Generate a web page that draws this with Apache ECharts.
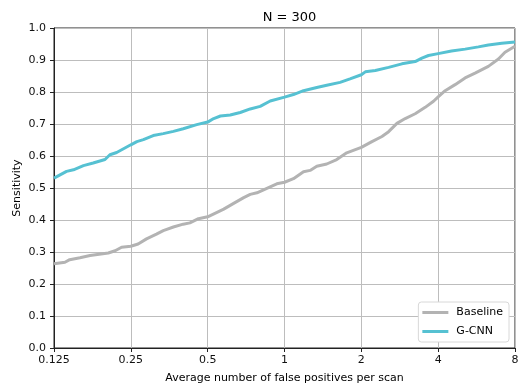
<!DOCTYPE html>
<html>
<head>
<meta charset="utf-8">
<script src="https://cdn.jsdelivr.net/npm/echarts@6/dist/echarts.min.js"></script>
<style>html,body{margin:0;padding:0;background:#fff;}#c{width:519px;height:385px;}</style>
</head>
<body>
<div id="c"></div>
<script>
var xTicks = [0.125, 0.25, 0.5, 1, 2, 4, 8];
var baselineX = [0.125,0.138,0.144,0.158,0.173,0.204,0.217,0.230,0.25,0.267,0.288,0.315,0.335,0.367,0.401,0.426,0.460,0.5,0.544,0.578,0.632,0.692,0.734,0.780,0.853,0.933,1.0,1.084,1.187,1.260,1.338,1.464,1.602,1.753,2.0,2.201,2.409,2.558,2.757,2.971,3.251,3.558,3.835,4.0,4.26,4.66,5.10,5.58,6.29,6.89,7.31,8];
var baselineY = [0.263,0.268,0.276,0.282,0.289,0.297,0.304,0.315,0.318,0.325,0.341,0.356,0.367,0.378,0.387,0.391,0.404,0.410,0.424,0.434,0.452,0.470,0.480,0.485,0.499,0.513,0.518,0.529,0.551,0.555,0.568,0.575,0.589,0.610,0.627,0.645,0.661,0.676,0.702,0.717,0.732,0.752,0.771,0.785,0.804,0.823,0.844,0.859,0.880,0.903,0.924,0.943];
var gcnnX = [0.125,0.140,0.149,0.163,0.178,0.198,0.207,0.220,0.25,0.264,0.280,0.306,0.335,0.367,0.401,0.453,0.5,0.528,0.561,0.613,0.671,0.734,0.803,0.879,1.0,1.084,1.187,1.338,1.464,1.651,1.806,2.0,2.073,2.269,2.558,2.884,3.251,3.454,3.666,4.0,4.51,5.10,5.75,6.29,7.10,8];
var gcnnY = [0.531,0.552,0.557,0.570,0.578,0.589,0.604,0.611,0.635,0.645,0.651,0.664,0.670,0.677,0.685,0.698,0.706,0.717,0.725,0.728,0.736,0.747,0.755,0.772,0.784,0.792,0.804,0.814,0.821,0.830,0.841,0.854,0.863,0.867,0.877,0.888,0.895,0.906,0.914,0.920,0.928,0.934,0.941,0.947,0.952,0.956];

function zip(a, b) { return a.map(function (v, i) { return [v, b[i]]; }); }

var font = 'DejaVu Sans';
var chart = echarts.init(document.getElementById('c'));
chart.setOption({
  animation: false,
  backgroundColor: '#fff',
  title: {
    text: 'N = 300', left: 284.5, top: 6, textAlign: 'center',
    textStyle: { fontFamily: font, fontSize: 13, fontWeight: 'normal', color: '#000' }
  },
  grid: { left: 54, right: 4, top: 28, bottom: 37, show: true, borderColor: '#222', borderWidth: 1,
    containLabel: false, outerBoundsMode: 'none' },
  legend: {
    orient: 'vertical', right: 10, bottom: 43,
    data: ['Baseline', 'G-CNN'],
    icon: 'rect', itemWidth: 26, itemHeight: 3, itemGap: 8,
    backgroundColor: '#fff', borderColor: '#d8d8d8', borderWidth: 1, borderRadius: 3,
    padding: [5, 6, 5, 4],
    textStyle: { fontFamily: font, fontSize: 11, color: '#000', padding: [0, 0, 0, 3] }
  },
  xAxis: {
    type: 'log', logBase: 2, min: 0.125, max: 8,
    name: 'Average number of false positives per scan', nameLocation: 'middle', nameGap: 25,
    nameMoveOverlap: false,
    nameTextStyle: { fontFamily: font, fontSize: 11, color: '#000' },
    axisLine: { show: true, onZero: false, lineStyle: { color: '#222', width: 1 } },
    axisTick: { show: true, inside: false, length: 4, lineStyle: { color: '#222' }, customValues: xTicks },
    axisLabel: { fontFamily: font, fontSize: 11, color: '#111', margin: 7, customValues: xTicks,
      formatter: function (v) { var r = Math.round(v * 1000) / 1000; return String(r); } },
    splitLine: { show: true, lineStyle: { color: '#bdbdbd', width: 1 } },
    minorTick: { show: false }
  },
  yAxis: {
    type: 'value', min: 0, max: 1, interval: 0.1,
    name: 'Sensitivity', nameLocation: 'middle', nameGap: 31, nameMoveOverlap: false,
    nameTextStyle: { fontFamily: font, fontSize: 11, color: '#000' },
    axisLine: { show: true, lineStyle: { color: '#222', width: 1 } },
    axisTick: { show: true, inside: false, length: 4, lineStyle: { color: '#222' } },
    axisLabel: { fontFamily: font, fontSize: 11, color: '#111', margin: 8,
      formatter: function (v) { return v.toFixed(1); } },
    splitLine: { show: true, lineStyle: { color: '#bdbdbd', width: 1 } }
  },
  series: [
    { name: 'Baseline', type: 'line', data: zip(baselineX, baselineY), showSymbol: false, symbol: 'none',
      lineStyle: { color: '#b3b3b3', width: 3 }, itemStyle: { color: '#b3b3b3' }, z: 3 },
    { name: 'G-CNN', type: 'line', data: zip(gcnnX, gcnnY), showSymbol: false, symbol: 'none',
      lineStyle: { color: '#56c1d2', width: 3 }, itemStyle: { color: '#56c1d2' }, z: 4 }
  ]
});
</script>
</body>
</html>
